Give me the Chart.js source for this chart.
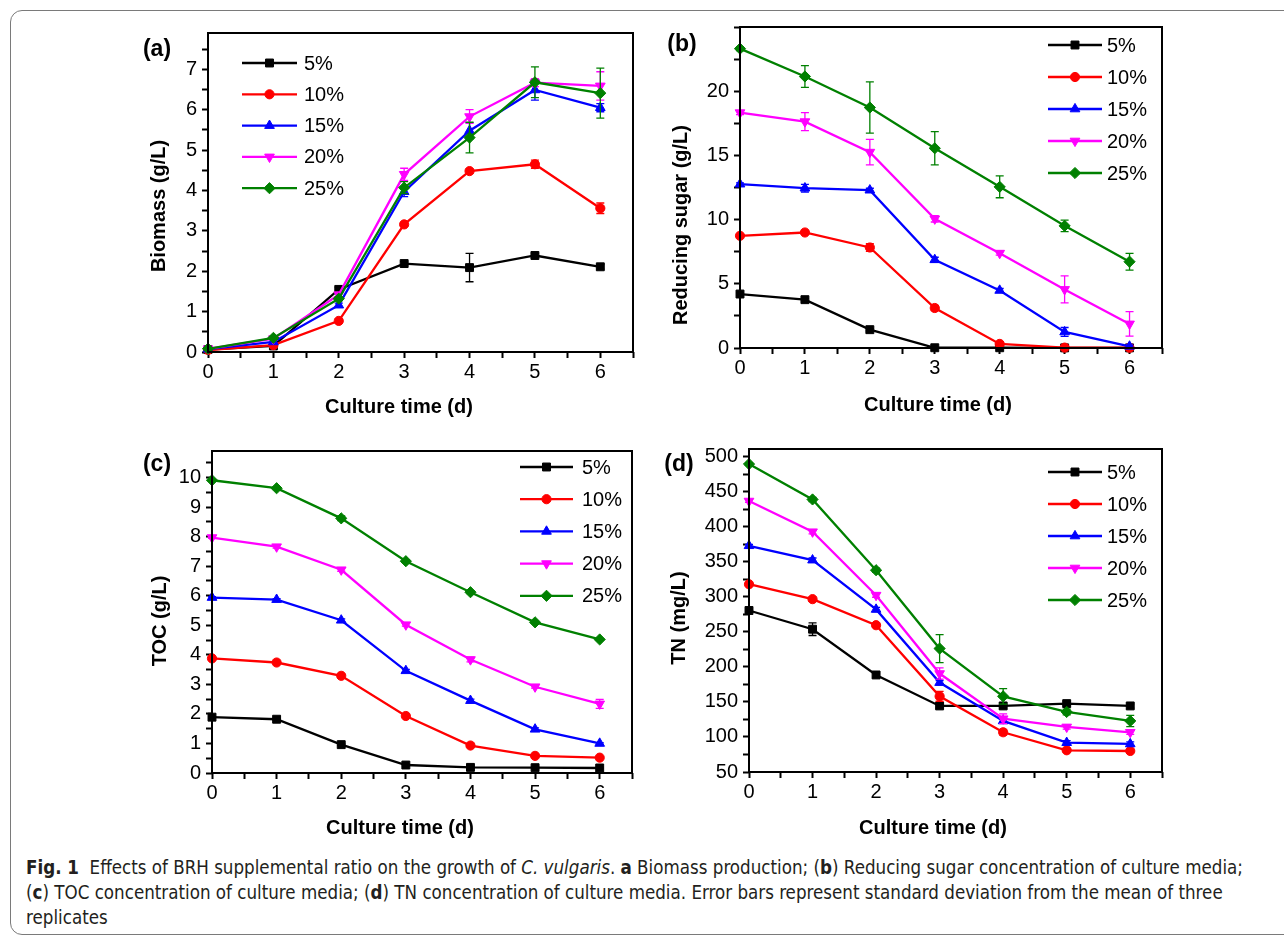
<!DOCTYPE html>
<html>
<head>
<meta charset="utf-8">
<script src="https://cdn.jsdelivr.net/npm/chart.js@4.4.0/dist/chart.umd.min.js"></script>
<style>
html, body { margin: 0; padding: 0; background: #fff; }
body { width: 1284px; height: 938px; position: relative; overflow: hidden; }
#frame { position: absolute; left: 10px; top: 10px; width: 1320px; height: 925px; border: 1px solid #7a7a7a; border-radius: 12px; box-sizing: border-box; }
canvas { position: absolute; }
#cap { position: absolute; left: 26px; top: 855px; font-family: "DejaVu Sans Condensed", "Liberation Sans Narrow", sans-serif; font-size: 18.6px; line-height: 25px; color: #231f20; white-space: nowrap; }
</style>
</head>
<body>
<div id="frame"></div>
<canvas id="pa" width="530" height="420" style="left:120px;top:10px"></canvas>
<canvas id="pb" width="530" height="420" style="left:650px;top:10px"></canvas>
<canvas id="pc" width="530" height="420" style="left:120px;top:430px"></canvas>
<canvas id="pd" width="530" height="420" style="left:650px;top:430px"></canvas>
<div id="cap">
<b>Fig. 1</b>&nbsp; Effects of BRH supplemental ratio on the growth of <i>C. vulgaris</i>. <b>a</b> Biomass production; (<b>b</b>) Reducing sugar concentration of culture media;<br>
(<b>c</b>) TOC concentration of culture media; (<b>d</b>) TN concentration of culture media. Error bars represent standard deviation from the mean of three<br>
replicates
</div>
<script>
// culture time (d) and BRH supplemental ratios
const days = [0, 1, 2, 3, 4, 5, 6];
const ratios = ["5%", "10%", "15%", "20%", "25%"];

// (a) biomass, g/L
const biomass = [
  [0.06, 0.15, 1.55, 2.19, 2.09, 2.39, 2.11],
  [0.05, 0.17, 0.77, 3.16, 4.48, 4.65, 3.56],
  [0.07, 0.25, 1.16, 3.97, 5.48, 6.49, 6.05],
  [0.08, 0.33, 1.42, 4.40, 5.83, 6.67, 6.59],
  [0.08, 0.35, 1.32, 4.07, 5.31, 6.68, 6.41]
];
const biomassErr = [
  [0.02, 0.03, 0.05, 0.05, 0.35, 0.05, 0.06],
  [0.02, 0.03, 0.05, 0.05, 0.05, 0.10, 0.13],
  [0.02, 0.03, 0.05, 0.12, 0.20, 0.25, 0.10],
  [0.02, 0.03, 0.05, 0.15, 0.17, 0.10, 0.35],
  [0.02, 0.03, 0.05, 0.15, 0.38, 0.38, 0.62]
];

// (b) reducing sugar, g/L
const sugar = [
  [4.21, 3.77, 1.43, 0.02, 0.02, 0.01, 0.01],
  [8.75, 9.01, 7.84, 3.12, 0.32, 0.03, 0.02],
  [12.78, 12.47, 12.31, 6.88, 4.49, 1.25, 0.13],
  [18.36, 17.66, 15.28, 10.08, 7.40, 4.57, 1.88],
  [23.35, 21.18, 18.76, 15.58, 12.57, 9.53, 6.73]
];
const sugarErr = [
  [0.10, 0.10, 0.10, 0, 0, 0, 0],
  [0.10, 0.15, 0.30, 0.20, 0.10, 0, 0],
  [0.10, 0.30, 0.15, 0.20, 0.15, 0.35, 0.10],
  [0.15, 0.70, 1.00, 0.25, 0.15, 1.05, 0.95],
  [0.15, 0.85, 2.00, 1.30, 0.85, 0.45, 0.65]
];

// (c) TOC, g/L
const toc = [
  [1.89, 1.82, 0.96, 0.27, 0.19, 0.18, 0.17],
  [3.88, 3.74, 3.29, 1.93, 0.93, 0.58, 0.52],
  [5.94, 5.87, 5.17, 3.46, 2.45, 1.48, 1.00],
  [7.97, 7.66, 6.88, 5.02, 3.84, 2.92, 2.34],
  [9.91, 9.64, 8.62, 7.17, 6.12, 5.10, 4.52]
];
const tocErr = [
  [0.03, 0.03, 0.03, 0.03, 0.03, 0.03, 0.03],
  [0.03, 0.03, 0.05, 0.05, 0.05, 0.03, 0.03],
  [0.03, 0.03, 0.05, 0.05, 0.05, 0.05, 0.03],
  [0.03, 0.05, 0.05, 0.05, 0.08, 0.05, 0.15],
  [0.03, 0.05, 0.08, 0.05, 0.05, 0.03, 0.03]
];

// (d) TN, mg/L
const tn = [
  [280.5, 253.8, 188.5, 144.3, 144.3, 147.6, 144.3],
  [318.0, 296.7, 259.5, 158.0, 106.7, 81.0, 80.0],
  [372.9, 352.4, 282.0, 177.6, 122.9, 91.9, 90.0],
  [436.7, 392.9, 302.4, 190.5, 126.0, 114.3, 106.7],
  [489.5, 439.0, 338.0, 226.2, 158.0, 135.7, 122.9]
];
const tnErr = [
  [2, 9, 3, 3, 3, 3, 3],
  [2, 3, 3, 7, 4, 2, 2],
  [2, 3, 3, 3, 3, 3, 3],
  [2, 3, 3, 8, 7, 3, 3],
  [2, 3, 3, 20, 11, 4, 8]
];

const colors = ["#000000", "#ff0000", "#0000ff", "#ff00ff", "#008000"];
const markers = ["rect", "circle", "triangle", "triangle", "rectRot"];
const markerRot = [0, 0, 0, 180, 0];
const markerSize = [5.6, 4.6, 5.6, 5.6, 5.6];
const FONT = "'Liberation Sans', Arial, sans-serif";

// error bars with caps, drawn right after each line
const errorBars = {
  id: "errorBars",
  afterDatasetDraw(chart, args) {
    const ds = chart.data.datasets[args.index];
    if (!ds.errors) return;
    const ctx = chart.ctx, xs = chart.scales.x, ys = chart.scales.y;
    ctx.save();
    ctx.strokeStyle = ds.borderColor;
    ctx.lineWidth = 1.3;
    ds.data.forEach((p, i) => {
      const e = ds.errors[i];
      if (!e) return;
      const px = xs.getPixelForValue(p.x);
      const t = ys.getPixelForValue(p.y + e), b = ys.getPixelForValue(p.y - e);
      ctx.beginPath();
      ctx.moveTo(px, t); ctx.lineTo(px, b);
      ctx.moveTo(px - 4, t); ctx.lineTo(px + 4, t);
      ctx.moveTo(px - 4, b); ctx.lineTo(px + 4, b);
      ctx.stroke();
    });
    ctx.restore();
  }
};

// frame, panel letter, axis titles and origin-style legend
const decor = {
  id: "decor",
  afterDraw(chart, args, o) {
    const ctx = chart.ctx, a = chart.chartArea;
    ctx.save();
    ctx.strokeStyle = "#000";
    ctx.lineWidth = 2;
    ctx.strokeRect(a.left, a.top, a.right - a.left, a.bottom - a.top);

    ctx.fillStyle = "#000";
    ctx.textAlign = "center";
    ctx.textBaseline = "middle";
    ctx.font = "bold 23px " + FONT;
    ctx.fillText(o.letter, o.letterX, o.letterY);
    ctx.font = "bold 20px " + FONT;
    ctx.fillText(o.xTitle, o.xTitleX, o.xTitleY);
    ctx.save();
    ctx.translate(o.yTitleX, o.yTitleY);
    ctx.rotate(-Math.PI / 2);
    ctx.fillText(o.yTitle, 0, 0);
    ctx.restore();

    ctx.font = "20px " + FONT;
    ctx.textAlign = "left";
    chart.data.datasets.forEach((ds, i) => {
      const y = o.legY + i * o.legDy;
      ctx.strokeStyle = ds.borderColor;
      ctx.fillStyle = ds.borderColor;
      ctx.lineWidth = 2.3;
      ctx.beginPath();
      ctx.moveTo(o.legX1, y); ctx.lineTo(o.legX2, y);
      ctx.stroke();
      ctx.lineWidth = 1;
      Chart.helpers.drawPoint(ctx, {
        pointStyle: ds.pointStyle, rotation: ds.pointRotation,
        radius: ds.pointRadius, borderWidth: 1
      }, (o.legX1 + o.legX2) / 2, y);
      ctx.fillStyle = "#000";
      ctx.fillText(ds.label, o.legTx, y + 1);
    });
    ctx.restore();
  }
};

function panel(id, values, errors, box, y, deco) {
  const datasets = values.map((row, i) => ({
    label: ratios[i],
    data: row.map((v, j) => ({ x: days[j], y: v })),
    errors: errors[i],
    borderColor: colors[i],
    backgroundColor: colors[i],
    borderWidth: 2.3,
    pointStyle: markers[i],
    pointRotation: markerRot[i],
    pointRadius: markerSize[i],
    pointHoverRadius: markerSize[i],
    pointBorderWidth: 1,
    tension: 0,
    clip: false,
    order: 5 - i
  }));
  const tickFont = { family: FONT, size: 20 };
  return new Chart(document.getElementById(id), {
    type: "line",
    data: { datasets },
    plugins: [errorBars, decor],
    options: {
      responsive: false,
      animation: false,
      events: [],
      layout: { padding: { left: 0, top: box.top, right: box.right, bottom: 0 } },
      plugins: { legend: { display: false }, tooltip: { enabled: false }, decor: deco },
      scales: {
        x: {
          type: "linear", min: 0, max: 6.5,
          afterFit: s => { s.height = box.xh; },
          border: { display: false },
          grid: { drawOnChartArea: false, tickLength: 6, tickWidth: 2, tickColor: "#000" },
          ticks: {
            stepSize: 0.5, includeBounds: false, autoSkip: false, maxRotation: 0,
            color: "#000", font: tickFont, padding: 2,
            callback: v => Number.isInteger(v) ? String(v) : ""
          }
        },
        y: {
          min: y.min, max: y.max,
          afterFit: s => { s.width = box.yw; },
          border: { display: false },
          grid: { drawOnChartArea: false, tickLength: 6, tickWidth: 2, tickColor: "#000" },
          ticks: {
            stepSize: y.step, includeBounds: false, autoSkip: false,
            color: "#000", font: tickFont, padding: 5,
            callback: v => {
              const k = v / y.label;
              return Math.abs(k - Math.round(k)) < 1e-6 && v <= y.labelMax ? String(v) : "";
            }
          }
        }
      }
    }
  });
}

panel("pa", biomass, biomassErr,
  { yw: 88, top: 23, right: 17, xh: 78 },
  { min: 0, max: 7.9, step: 0.5, label: 1, labelMax: 7 },
  { letter: "(a)", letterX: 37, letterY: 40, xTitle: "Culture time (d)", xTitleX: 279, xTitleY: 397,
    yTitle: "Biomass (g/L)", yTitleX: 39, yTitleY: 196,
    legX1: 122, legX2: 177, legTx: 184, legY: 53, legDy: 31.3 });

panel("pb", sugar, sugarErr,
  { yw: 90, top: 17, right: 18, xh: 82 },
  { min: 0, max: 25.04, step: 2.5, label: 5, labelMax: 20 },
  { letter: "(b)", letterX: 32, letterY: 35, xTitle: "Culture time (d)", xTitleX: 288, xTitleY: 395,
    yTitle: "Reducing sugar (g/L)", yTitleX: 31, yTitleY: 215,
    legX1: 398, legX2: 452, legTx: 457, legY: 35, legDy: 32 });

panel("pc", toc, tocErr,
  { yw: 92, top: 21, right: 18, xh: 77 },
  { min: 0, max: 10.9, step: 0.5, label: 1, labelMax: 10 },
  { letter: "(c)", letterX: 37, letterY: 35, xTitle: "Culture time (d)", xTitleX: 280, xTitleY: 398,
    yTitle: "TOC (g/L)", yTitleX: 40, yTitleY: 191,
    legX1: 400, legX2: 453, legTx: 462, legY: 37, legDy: 32.2 });

panel("pd", tn, tnErr,
  { yw: 99, top: 19, right: 18, xh: 78 },
  { min: 50, max: 511, step: 25, label: 50, labelMax: 500 },
  { letter: "(d)", letterX: 29, letterY: 35, xTitle: "Culture time (d)", xTitleX: 283, xTitleY: 398,
    yTitle: "TN (mg/L)", yTitleX: 29, yTitleY: 188,
    legX1: 398, legX2: 452, legTx: 457, legY: 42, legDy: 32 });
</script>
</body>
</html>
